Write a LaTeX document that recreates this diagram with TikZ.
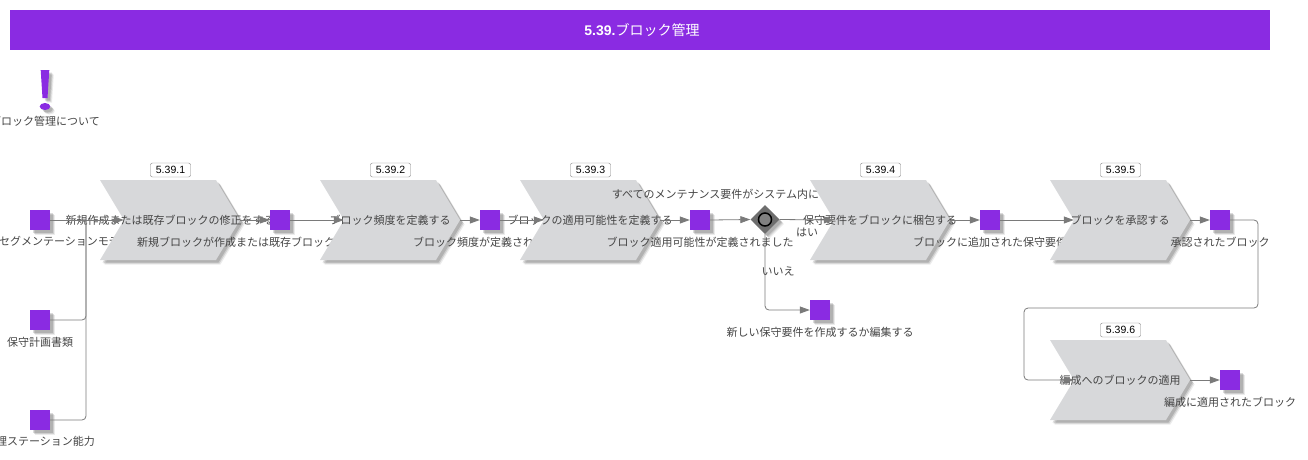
\documentclass[tikz,border=0pt]{standalone}
\usepackage{fontspec}
\setmainfont{Noto Sans CJK JP}
\newfontfamily\tagfont{Liberation Sans}
\usepackage{xcolor}
\usetikzlibrary{arrows.meta,shapes.symbols,shapes.geometric,positioning,calc,shadows}
\definecolor{blockviolet}{HTML}{8A2BE2}
\definecolor{chevgray}{HTML}{D7D8DA}
\definecolor{linegray}{HTML}{7A7A7A}
\definecolor{textgray}{HTML}{444444}
\definecolor{gategray}{HTML}{6E6E6E}
\definecolor{ringgray}{HTML}{808080}
\tikzset{
    softshadow/.style={
        drop shadow={shadow xshift=4.5pt, shadow yshift=-4.5pt, fill=black, opacity=.08},
        drop shadow={shadow xshift=3.5pt, shadow yshift=-3.5pt, fill=black, opacity=.12},
        drop shadow={shadow xshift=2.5pt, shadow yshift=-2.5pt, fill=black, opacity=.14}
    },
    titlebar/.style={fill=blockviolet, minimum width=1260pt, minimum height=40pt, inner sep=0pt},
    titletext/.style={text=white, inner sep=0pt, font=\fontsize{14}{16}\selectfont},
    eventbox/.style={fill=blockviolet, minimum size=20pt, inner sep=0pt, softshadow},
    evtext/.style={inner sep=0pt, text=textgray, text height=9.5pt, text depth=1.5pt, font=\fontsize{11}{13}\selectfont},
    chevron/.style={signal, signal to=east, signal from=west, signal pointer angle=118, fill=chevgray, minimum width=140pt, minimum height=80pt, inner sep=0pt, softshadow},
    tagbox/.style={draw=gray, rounded corners=2pt, fill=white, minimum width=40pt, minimum height=14pt, inner sep=0pt, font=\fontsize{10.5}{12}\selectfont\tagfont},
    gateway/.style={diamond, fill=gategray, minimum size=29pt, inner sep=0pt, softshadow},
    ring/.style={circle, draw=black, line width=1.5pt, fill=ringgray, minimum size=13pt, inner sep=0pt},
    conn/.style={draw=linegray, line width=.8pt, rounded corners=4pt, -{Triangle[length=10pt,width=7pt]}},
    link/.style={draw=linegray, line width=.8pt, rounded corners=4pt}
}
\begin{document}
\begin{tikzpicture}[x=1pt, y=-1pt]
    \useasboundingbox (0,0) rectangle (1308,459);

    \node[titlebar] (title) at (640,30) {};
    \node[titletext] (titlet) at (642,30) {{\tagfont\bfseries 5.39.}ブロック管理};

    \fill[blockviolet, softshadow] (40.7,70) -- (49.3,70) -- (47.5,98) -- (42.5,98) -- cycle;
    \fill[blockviolet, softshadow] (45,106.5) ellipse (5.3 and 3.5);
    \node[evtext] (aboutt) at (45,121.5) {ブロック管理について};

    \node[eventbox] (model) at (40,220) {};
    \node[evtext, anchor=west] (modelt) at (-1,241.5) {セグメンテーションモデ};
    \node[eventbox] (plan) at (40,320) {};
    \node[evtext, below=6.5pt of plan] (plant) {保守計画書類};
    \node[eventbox] (station) at (40,420) {};
    \node[evtext, anchor=east] (stationt) at (95,441.5) {理ステーション能力};
    \coordinate (joint) at (86,220);

    \node[chevron] (c1) at (170,220) {};
    \node[evtext] (c1t) at (c1) {新規作成または既存ブロックの修正をする};
    \node[tagbox] (tag1) at (170.5,170) {5.39.1};
    \node[eventbox] (created) at (280,220) {};
    \node[evtext, below=6.5pt of created] (createdt) {新規ブロックが作成または既存ブロックが修正されました};

    \node[chevron] (c2) at (390,220) {};
    \node[evtext] (c2t) at (c2) {ブロック頻度を定義する};
    \node[tagbox] (tag2) at (390.5,170) {5.39.2};
    \node[eventbox] (freq) at (490,220) {};
    \node[evtext, below=6.5pt of freq] (freqt) {ブロック頻度が定義されました};

    \node[chevron] (c3) at (590,220) {};
    \node[evtext] (c3t) at (c3) {ブロックの適用可能性を定義する};
    \node[tagbox] (tag3) at (590.5,170) {5.39.3};
    \node[eventbox] (appl) at (700,220) {};
    \node[evtext, below=6.5pt of appl] (applt) {ブロック適用可能性が定義されました};
    \node[evtext] (gatet) at (715.5,194.5) {すべてのメンテナンス要件がシステム内に};
    \node[gateway] (gate) at (765,219.5) {};
    \node[ring] (gatering) at (gate) {};

    \node[chevron] (c4) at (880,220) {};
    \node[evtext] (c4t) at (c4) {保守要件をブロックに梱包する};
    \node[tagbox] (tag4) at (880.5,170) {5.39.4};
    \node[evtext] (yest) at (807,232.5) {はい};
    \node[evtext] (not) at (778,271.5) {いいえ};
    \node[eventbox] (newreq) at (820,310) {};
    \node[evtext, below=6.5pt of newreq] (newreqt) {新しい保守要件を作成するか編集する};
    \node[eventbox] (added) at (990,220) {};
    \node[evtext, below=6.5pt of added] (addedt) {ブロックに追加された保守要件};

    \node[chevron] (c5) at (1120,220) {};
    \node[evtext] (c5t) at (c5) {ブロックを承認する};
    \node[tagbox] (tag5) at (1120.5,170) {5.39.5};
    \node[eventbox] (approved) at (1220,220) {};
    \node[evtext, below=6.5pt of approved] (approvedt) {承認されたブロック};

    \node[chevron] (c6) at (1120,380) {};
    \node[evtext] (c6t) at (c6) {編成へのブロックの適用};
    \node[tagbox] (tag6) at (1120.5,330) {5.39.6};
    \node[eventbox] (applied) at (1230,380) {};
    \node[evtext, below=6.5pt of applied] (appliedt) {編成に適用されたブロック};

    \coordinate (turnA) at (1258,308);
    \coordinate (turnB) at (1024,380);

    \path[conn] (model.east) -- (c1.west);
    \path[link] (plan.east) -| (joint);
    \path[link] (station.east) -| (joint);
    \path[conn] (c1.east) -- (created.west);
    \path[conn] (created.east) -- (c2.west);
    \path[conn] (c2.east) -- (freq.west);
    \path[conn] (freq.east) -- (c3.west);
    \path[conn] (c3.east) -- (appl.west);
    \path[conn] (appl.east) -- (gate.west);
    \path[conn] (gate.east) -- (c4.west);
    \path[conn] (gate.south) |- (newreq.west);
    \path[conn] (c4.east) -- (added.west);
    \path[conn] (added.east) -- (c5.west);
    \path[conn] (c5.east) -- (approved.west);
    \path[conn] (approved.east) -| (turnA) -| (turnB) -- (c6.west);
    \path[conn] (c6.east) -- (applied.west);
\end{tikzpicture}
\end{document}
